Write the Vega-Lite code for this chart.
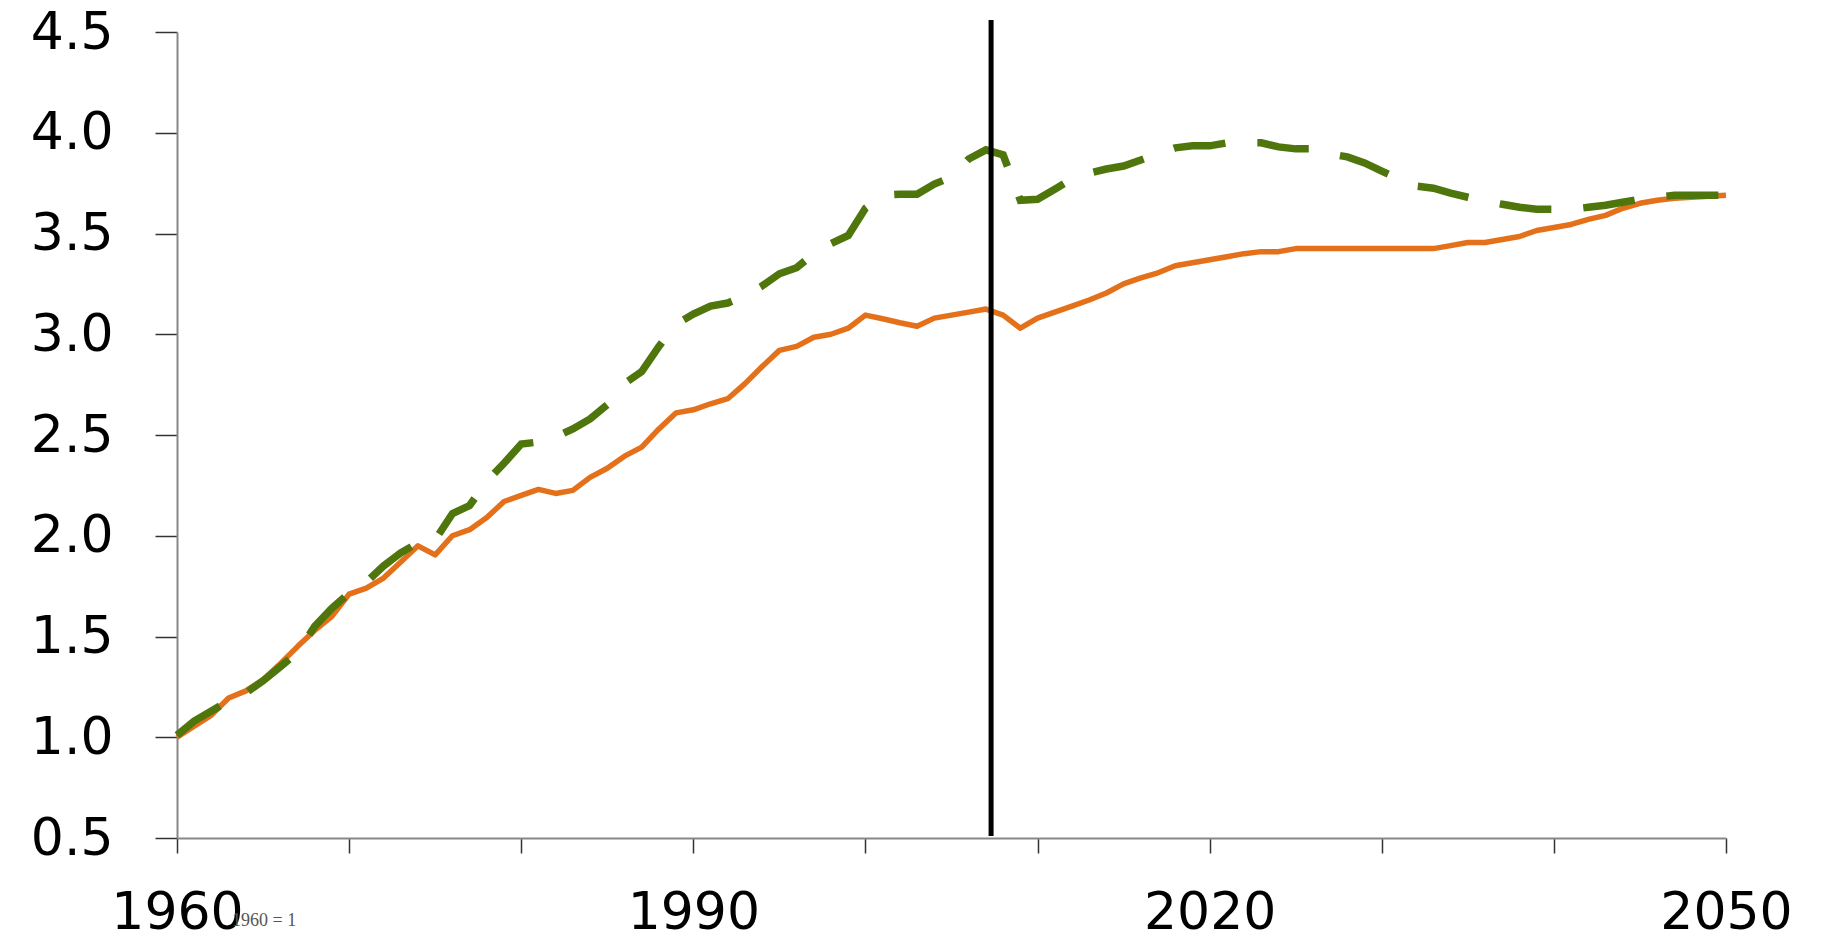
{
  "$schema": "https://vega.github.io/schema/vega-lite/v6.json",
  "width": 1549,
  "height": 806,
  "autosize": "none",
  "padding": {"left": 177, "top": 32, "right": 95, "bottom": 101},
  "background": "white",
  "config": {"view": {"stroke": null}},
  "datasets": {
    "lines": [
      {"year":1960,"series":"orange","value":1.00},{"year":1961,"series":"orange","value":1.055},{"year":1962,"series":"orange","value":1.11},{"year":1963,"series":"orange","value":1.195},{"year":1964,"series":"orange","value":1.23},{"year":1965,"series":"orange","value":1.285},{"year":1966,"series":"orange","value":1.365},{"year":1967,"series":"orange","value":1.45},{"year":1968,"series":"orange","value":1.53},{"year":1969,"series":"orange","value":1.60},
      {"year":1970,"series":"orange","value":1.71},{"year":1971,"series":"orange","value":1.74},{"year":1972,"series":"orange","value":1.79},{"year":1973,"series":"orange","value":1.87},{"year":1974,"series":"orange","value":1.95},{"year":1975,"series":"orange","value":1.905},{"year":1976,"series":"orange","value":2.00},{"year":1977,"series":"orange","value":2.03},{"year":1978,"series":"orange","value":2.09},{"year":1979,"series":"orange","value":2.17},
      {"year":1980,"series":"orange","value":2.20},{"year":1981,"series":"orange","value":2.23},{"year":1982,"series":"orange","value":2.21},{"year":1983,"series":"orange","value":2.225},{"year":1984,"series":"orange","value":2.29},{"year":1985,"series":"orange","value":2.335},{"year":1986,"series":"orange","value":2.395},{"year":1987,"series":"orange","value":2.44},{"year":1988,"series":"orange","value":2.53},{"year":1989,"series":"orange","value":2.61},
      {"year":1990,"series":"orange","value":2.625},{"year":1991,"series":"orange","value":2.655},{"year":1992,"series":"orange","value":2.68},{"year":1993,"series":"orange","value":2.755},{"year":1994,"series":"orange","value":2.84},{"year":1995,"series":"orange","value":2.92},{"year":1996,"series":"orange","value":2.94},{"year":1997,"series":"orange","value":2.985},{"year":1998,"series":"orange","value":3.00},{"year":1999,"series":"orange","value":3.03},
      {"year":2000,"series":"orange","value":3.095},{"year":2001,"series":"orange","value":3.077},{"year":2002,"series":"orange","value":3.057},{"year":2003,"series":"orange","value":3.04},{"year":2004,"series":"orange","value":3.08},{"year":2005,"series":"orange","value":3.095},{"year":2006,"series":"orange","value":3.11},{"year":2007,"series":"orange","value":3.125},{"year":2008,"series":"orange","value":3.095},{"year":2009,"series":"orange","value":3.03},
      {"year":2010,"series":"orange","value":3.08},{"year":2011,"series":"orange","value":3.11},{"year":2012,"series":"orange","value":3.14},{"year":2013,"series":"orange","value":3.17},{"year":2014,"series":"orange","value":3.205},{"year":2015,"series":"orange","value":3.25},{"year":2016,"series":"orange","value":3.28},{"year":2017,"series":"orange","value":3.305},{"year":2018,"series":"orange","value":3.34},{"year":2019,"series":"orange","value":3.355},
      {"year":2020,"series":"orange","value":3.37},{"year":2021,"series":"orange","value":3.385},{"year":2022,"series":"orange","value":3.40},{"year":2023,"series":"orange","value":3.41},{"year":2024,"series":"orange","value":3.41},{"year":2025,"series":"orange","value":3.425},{"year":2026,"series":"orange","value":3.425},{"year":2027,"series":"orange","value":3.425},{"year":2028,"series":"orange","value":3.425},{"year":2029,"series":"orange","value":3.425},
      {"year":2030,"series":"orange","value":3.425},{"year":2031,"series":"orange","value":3.425},{"year":2032,"series":"orange","value":3.425},{"year":2033,"series":"orange","value":3.425},{"year":2034,"series":"orange","value":3.44},{"year":2035,"series":"orange","value":3.455},{"year":2036,"series":"orange","value":3.455},{"year":2037,"series":"orange","value":3.47},{"year":2038,"series":"orange","value":3.485},{"year":2039,"series":"orange","value":3.515},
      {"year":2040,"series":"orange","value":3.53},{"year":2041,"series":"orange","value":3.545},{"year":2042,"series":"orange","value":3.57},{"year":2043,"series":"orange","value":3.59},{"year":2044,"series":"orange","value":3.625},{"year":2045,"series":"orange","value":3.65},{"year":2046,"series":"orange","value":3.665},{"year":2047,"series":"orange","value":3.675},{"year":2048,"series":"orange","value":3.68},{"year":2049,"series":"orange","value":3.685},{"year":2050,"series":"orange","value":3.69},

      {"year":1960,"series":"green","value":1.01},{"year":1961,"series":"green","value":1.08},{"year":1962,"series":"green","value":1.13},{"year":1963,"series":"green","value":1.18},{"year":1964,"series":"green","value":1.22},{"year":1965,"series":"green","value":1.28},{"year":1966,"series":"green","value":1.35},{"year":1967,"series":"green","value":1.42},{"year":1968,"series":"green","value":1.55},{"year":1969,"series":"green","value":1.64},
      {"year":1970,"series":"green","value":1.715},{"year":1971,"series":"green","value":1.77},{"year":1972,"series":"green","value":1.85},{"year":1973,"series":"green","value":1.915},{"year":1974,"series":"green","value":1.965},{"year":1975,"series":"green","value":1.98},{"year":1976,"series":"green","value":2.11},{"year":1977,"series":"green","value":2.15},{"year":1978,"series":"green","value":2.27},{"year":1979,"series":"green","value":2.36},
      {"year":1980,"series":"green","value":2.455},{"year":1981,"series":"green","value":2.465},{"year":1982,"series":"green","value":2.49},{"year":1983,"series":"green","value":2.53},{"year":1984,"series":"green","value":2.58},{"year":1985,"series":"green","value":2.65},{"year":1986,"series":"green","value":2.755},{"year":1987,"series":"green","value":2.815},{"year":1988,"series":"green","value":2.94},{"year":1989,"series":"green","value":3.05},
      {"year":1990,"series":"green","value":3.10},{"year":1991,"series":"green","value":3.14},{"year":1992,"series":"green","value":3.155},{"year":1993,"series":"green","value":3.19},{"year":1994,"series":"green","value":3.24},{"year":1995,"series":"green","value":3.30},{"year":1996,"series":"green","value":3.33},{"year":1997,"series":"green","value":3.40},{"year":1998,"series":"green","value":3.45},{"year":1999,"series":"green","value":3.49},
      {"year":2000,"series":"green","value":3.625},{"year":2001,"series":"green","value":3.69},{"year":2002,"series":"green","value":3.695},{"year":2003,"series":"green","value":3.695},{"year":2004,"series":"green","value":3.745},{"year":2005,"series":"green","value":3.78},{"year":2006,"series":"green","value":3.87},{"year":2007,"series":"green","value":3.915},{"year":2008,"series":"green","value":3.89},{"year":2009,"series":"green","value":3.665},
      {"year":2010,"series":"green","value":3.67},{"year":2011,"series":"green","value":3.72},{"year":2012,"series":"green","value":3.77},{"year":2013,"series":"green","value":3.80},{"year":2014,"series":"green","value":3.82},{"year":2015,"series":"green","value":3.835},{"year":2016,"series":"green","value":3.865},{"year":2017,"series":"green","value":3.895},{"year":2018,"series":"green","value":3.925},{"year":2019,"series":"green","value":3.935},
      {"year":2020,"series":"green","value":3.935},{"year":2021,"series":"green","value":3.95},{"year":2022,"series":"green","value":3.95},{"year":2023,"series":"green","value":3.95},{"year":2024,"series":"green","value":3.93},{"year":2025,"series":"green","value":3.92},{"year":2026,"series":"green","value":3.92},{"year":2027,"series":"green","value":3.895},{"year":2028,"series":"green","value":3.88},{"year":2029,"series":"green","value":3.85},
      {"year":2030,"series":"green","value":3.81},{"year":2031,"series":"green","value":3.77},{"year":2032,"series":"green","value":3.735},{"year":2033,"series":"green","value":3.725},{"year":2034,"series":"green","value":3.70},{"year":2035,"series":"green","value":3.68},{"year":2036,"series":"green","value":3.66},{"year":2037,"series":"green","value":3.645},{"year":2038,"series":"green","value":3.63},{"year":2039,"series":"green","value":3.62},
      {"year":2040,"series":"green","value":3.62},{"year":2041,"series":"green","value":3.62},{"year":2042,"series":"green","value":3.63},{"year":2043,"series":"green","value":3.64},{"year":2044,"series":"green","value":3.655},{"year":2045,"series":"green","value":3.67},{"year":2046,"series":"green","value":3.68},{"year":2047,"series":"green","value":3.69},{"year":2048,"series":"green","value":3.69},{"year":2049,"series":"green","value":3.69},{"year":2050,"series":"green","value":3.69}
    ],
    "marker": [{"year": 2007.3, "ytop": 4.56, "ybot": 0.51}],
    "note": [{"year": 1963.2, "value": 0.09, "text": "1960 = 1"}]
  },
  "layer": [
    {
      "data": {"name": "lines"},
      "transform": [{"filter": "datum.series === 'orange'"}],
      "mark": {"type": "line", "color": "#E4701A", "strokeWidth": 5.5, "strokeJoin": "round"},
      "encoding": {
        "x": {
          "field": "year", "type": "quantitative",
          "scale": {"domain": [1960, 2050], "nice": false, "zero": false},
          "axis": {
            "title": null, "grid": false,
            "values": [1960, 1970, 1980, 1990, 2000, 2010, 2020, 2030, 2040, 2050],
            "format": "d",
            "labelExpr": "(datum.value - 1960) % 30 === 0 ? datum.label : ''",
            "labelFont": "DejaVu Sans", "labelFontSize": 52, "labelColor": "black",
            "labelPadding": 34, "tickSize": 15, "tickColor": "#333333", "tickWidth": 1.5,
            "domainColor": "#888888", "domainWidth": 2, "labelFlush": false, "labelOverlap": false
          }
        },
        "y": {
          "field": "value", "type": "quantitative",
          "scale": {"domain": [0.5, 4.5], "nice": false, "zero": false},
          "axis": {
            "title": null, "grid": false,
            "values": [0.5, 1, 1.5, 2, 2.5, 3, 3.5, 4, 4.5],
            "format": ".1f",
            "labelFont": "DejaVu Sans", "labelFontSize": 52, "labelColor": "black",
            "labelPadding": 42, "tickSize": 22, "tickColor": "#333333", "tickWidth": 1.5,
            "domainColor": "#888888", "domainWidth": 2, "labelFlush": false, "labelOverlap": false
          }
        }
      }
    },
    {
      "data": {"name": "lines"},
      "transform": [{"filter": "datum.series === 'green'"}],
      "mark": {"type": "line", "color": "#4F760C", "strokeWidth": 7.5, "strokeDash": [52, 32], "strokeCap": "butt"},
      "encoding": {
        "x": {"field": "year", "type": "quantitative"},
        "y": {"field": "value", "type": "quantitative"}
      }
    },
    {
      "data": {"name": "marker"},
      "mark": {"type": "rule", "color": "black", "strokeWidth": 5},
      "encoding": {
        "x": {"field": "year", "type": "quantitative"},
        "y": {"field": "ytop", "type": "quantitative"},
        "y2": {"field": "ybot"}
      }
    },
    {
      "data": {"name": "note"},
      "mark": {"type": "text", "font": "Liberation Serif", "fontSize": 18, "color": "#555555", "align": "left", "baseline": "middle", "clip": false},
      "encoding": {
        "x": {"field": "year", "type": "quantitative"},
        "y": {"field": "value", "type": "quantitative"},
        "text": {"field": "text"}
      }
    }
  ]
}
